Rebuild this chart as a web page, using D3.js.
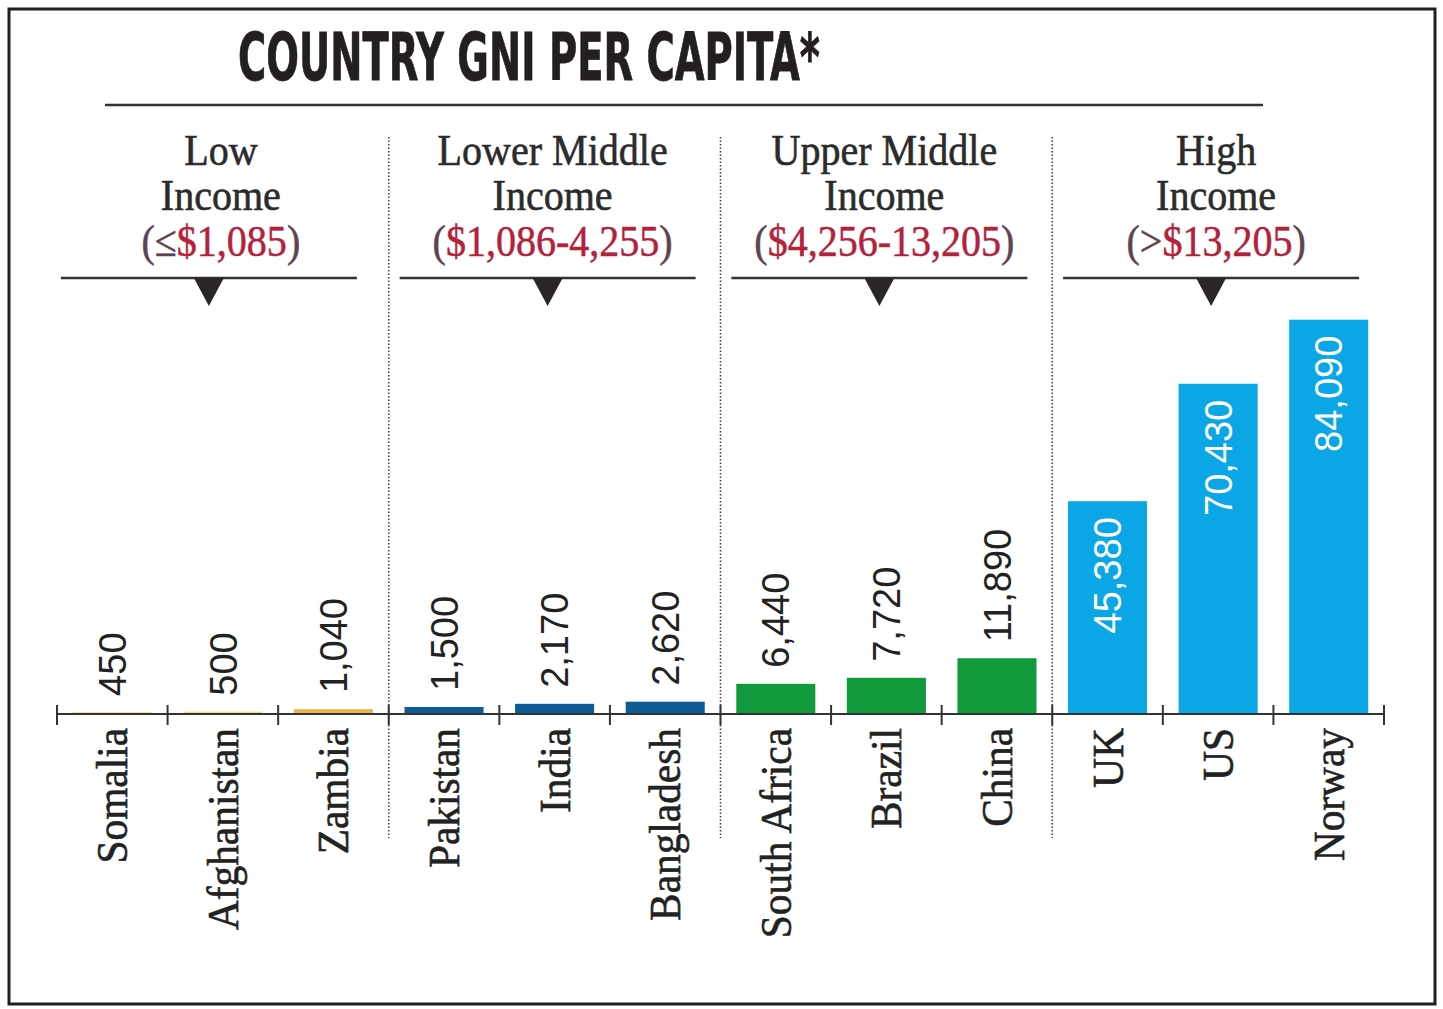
<!DOCTYPE html>
<html>
<head>
<meta charset="utf-8">
<script src="https://cdn.jsdelivr.net/npm/d3@7"></script>
<style>
  html, body { margin: 0; padding: 0; background: #fff; }
  svg { display: block; }
</style>
</head>
<body>
<svg id="chart" width="1443" height="1009"></svg>
<script>
// ---- data ----
const countries = ["Somalia","Afghanistan","Zambia","Pakistan","India","Bangladesh","South Africa","Brazil","China","UK","US","Norway"];
const values = [450, 500, 1040, 1500, 2170, 2620, 6440, 7720, 11890, 45380, 70430, 84090];
const groupIndex = [0,0,0,1,1,1,2,2,2,3,3,3];
const groupLine1 = ["Low", "Lower Middle", "Upper Middle", "High"];
const groupLine2 = ["Income", "Income", "Income", "Income"];
const groupRanges = [["≤", "$1,085"], ["", "$1,086-4,255"], ["", "$4,256-13,205"], [">", "$13,205"]];
const title = "COUNTRY GNI PER CAPITA*";

// ---- styles ----
const barColors = ["#f5e39a","#f4d98a","#ebb54e","#0f5b96","#0f5b96","#0f5b96","#119a3c","#119a3c","#119a3c","#0aa6e5","#0aa6e5","#0aa6e5"];
const ink = "#231f20";
const red = "#b3213a";
const parenColor = "#5e4352";

const svg = d3.select("#chart");

svg.append("rect").attr("x", 9).attr("y", 9).attr("width", 1426).attr("height", 995)
  .attr("fill", "#fff").attr("stroke", ink).attr("stroke-width", 3);

// scales
const x = d3.scaleBand().domain(countries).range([57, 1384]).paddingInner(0.285).paddingOuter(0.1425);
const step = x.step();
const y = d3.scaleLinear().domain([0, 90000]).range([714, 292]);
const baseY = y(0);
const cellLeft = d => x(d) - step * x.paddingInner() / 2;

// title
svg.append("text").attr("x", 238).attr("y", 80)
  .attr("font-family", "'DejaVu Sans Condensed','DejaVu Sans',sans-serif")
  .attr("font-weight", "bold").attr("font-size", 66)
  .attr("textLength", 582).attr("lengthAdjust", "spacingAndGlyphs")
  .attr("fill", ink).attr("stroke", ink).attr("stroke-width", 0.8).text(title);

svg.append("line").attr("x1", 105).attr("x2", 1263).attr("y1", 105).attr("y2", 105)
  .attr("stroke", "#333").attr("stroke-width", 2.5);

// groups
const groups = d3.range(groupLine1.length).map(g => {
  const members = countries.filter((c, i) => groupIndex[i] === g);
  const left = cellLeft(members[0]);
  const right = cellLeft(members[members.length - 1]) + step;
  return { g, left, right, center: (left + right) / 2 };
});

// dotted dividers
groups.slice(1).forEach(gr => {
  svg.append("line").attr("x1", gr.left).attr("x2", gr.left).attr("y1", 137).attr("y2", 838)
    .attr("stroke", "#444").attr("stroke-width", 1.6).attr("stroke-dasharray", "1.5,2");
});

const serif = "'Liberation Serif','Times New Roman',serif";
groups.forEach(gr => {
  const cx = gr.center - 2;
  const hdr = svg.append("g").attr("transform", `translate(${cx},0) scale(0.91,1)`);
  hdr.append("text").attr("x", 0).attr("y", 165).attr("text-anchor", "middle")
    .attr("font-family", serif).attr("font-size", 44).attr("fill", "#2b2b2b")
    .attr("stroke", "#2b2b2b").attr("stroke-width", 0.6).text(groupLine1[gr.g]);
  hdr.append("text").attr("x", 0).attr("y", 210).attr("text-anchor", "middle")
    .attr("font-family", serif).attr("font-size", 44).attr("fill", "#2b2b2b")
    .attr("stroke", "#2b2b2b").attr("stroke-width", 0.6).text(groupLine2[gr.g]);
  const r = hdr.append("text").attr("x", 0).attr("y", 256).attr("text-anchor", "middle")
    .attr("font-family", serif).attr("font-size", 44).attr("stroke-width", 0.5);
  r.append("tspan").attr("fill", parenColor).attr("stroke", parenColor).text("(" + groupRanges[gr.g][0]);
  r.append("tspan").attr("fill", red).attr("stroke", red).text(groupRanges[gr.g][1]);
  r.append("tspan").attr("fill", parenColor).attr("stroke", parenColor).text(")");

  const lc = gr.center - 7 - (gr.g === 0 ? 7 : 0);
  svg.append("line").attr("x1", lc - 148).attr("x2", lc + 148).attr("y1", 278).attr("y2", 278)
    .attr("stroke", "#333").attr("stroke-width", 2.5);
  svg.append("path")
    .attr("d", `M${lc - 15},278 L${lc + 15},278 L${lc},306 Z`)
    .attr("fill", "#2a2526");
});

// bars
svg.append("g").selectAll("rect").data(countries).join("rect")
  .attr("x", d => x(d)).attr("width", x.bandwidth())
  .attr("y", (d, i) => y(values[i])).attr("height", (d, i) => baseY - y(values[i]))
  .attr("fill", (d, i) => barColors[i]);

// axis
const tickPositions = countries.map(c => cellLeft(c)).concat([cellLeft(countries[countries.length - 1]) + step]);
svg.append("line").attr("x1", tickPositions[0]).attr("x2", tickPositions[tickPositions.length - 1])
  .attr("y1", baseY).attr("y2", baseY).attr("stroke", "#333").attr("stroke-width", 2);
svg.append("g").selectAll("line").data(tickPositions).join("line")
  .attr("x1", d => d).attr("x2", d => d).attr("y1", baseY - 9).attr("y2", baseY + 11)
  .attr("stroke", "#333").attr("stroke-width", 2);

// value labels
const fmt = d3.format(",");
const sans = "'Liberation Sans',Arial,sans-serif";
svg.append("g").selectAll("text").data(countries).join("text")
  .attr("transform", (d, i) => {
    const cx = x(d) + x.bandwidth() / 2;
    const inside = groupIndex[i] === 3;
    const yy = inside ? y(values[i]) + 16 : y(values[i]) - 16;
    return `translate(${cx},${yy}) rotate(-90)`;
  })
  .attr("text-anchor", (d, i) => groupIndex[i] === 3 ? "end" : "start")
  .attr("dy", "0.36em")
  .attr("font-family", sans).attr("font-size", 38)
  .attr("fill", (d, i) => groupIndex[i] === 3 ? "#fff" : "#222")
  .text((d, i) => fmt(values[i]));

// country labels
svg.append("g").selectAll("text").data(countries).join("text")
  .attr("transform", d => `translate(${x(d) + x.bandwidth() / 2},728) rotate(-90) scale(0.94,1)`)
  .attr("text-anchor", "end").attr("dy", "0.34em")
  .attr("font-family", serif).attr("font-size", 44).attr("fill", "#222")
  .attr("stroke", "#222").attr("stroke-width", 0.6)
  .text(d => d);
</script>
</body>
</html>
